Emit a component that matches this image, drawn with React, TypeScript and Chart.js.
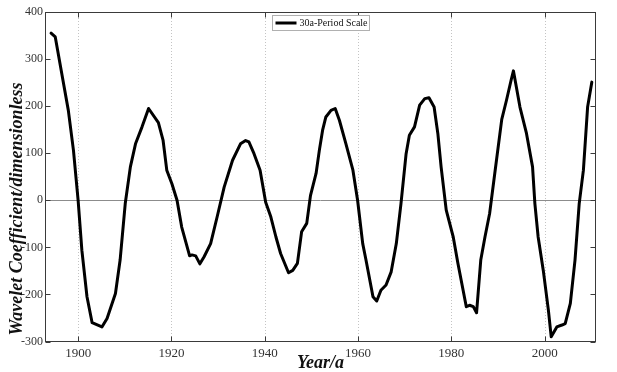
import React, { useEffect, useRef } from 'react';
import { Chart, registerables } from 'chart.js';

Chart.register(...registerables);

const years = [
  1894.2, 1895.1, 1896.5, 1897.9, 1899.0, 1900.0, 1900.8, 1901.9, 1903.0, 1905.1,
  1906.2, 1908.0, 1909.0, 1910.1, 1911.2, 1912.3, 1913.7, 1915.1, 1917.2, 1918.2,
  1919.0, 1920.1, 1921.2, 1922.2, 1923.9, 1924.4, 1925.2, 1926.1, 1927.0, 1928.4,
  1929.8, 1931.3, 1933.1, 1934.8, 1935.9, 1936.6, 1937.7, 1939.0, 1940.2, 1941.3,
  1942.4, 1943.4, 1945.1, 1946.0, 1947.0, 1947.9, 1949.0, 1949.8, 1951.0, 1951.7,
  1952.4, 1953.1, 1954.2, 1955.1, 1956.0, 1957.4, 1958.9, 1959.9, 1961.0, 1961.7,
  1963.2, 1964.0, 1964.9, 1966.0, 1967.1, 1968.2, 1969.2, 1970.3, 1971.0, 1972.1,
  1973.2, 1974.3, 1975.2, 1976.3, 1977.1, 1977.8, 1978.9, 1980.4, 1981.4, 1983.2,
  1983.9, 1984.7, 1985.4, 1986.3, 1987.2, 1988.2, 1989.3, 1990.8, 1991.8, 1992.8,
  1993.3, 1994.7, 1996.1, 1997.4, 1997.9, 1998.6, 1999.7, 2000.8, 2001.4, 2002.6,
  2003.7, 2004.4, 2005.5, 2006.5, 2007.4, 2008.3, 2009.2, 2010.1,
];

const coefficients = [
  355, 347, 269, 191, 106, 0, -106, -205, -260, -269,
  -251, -198, -127, -7, 71, 120, 156, 195, 165, 128,
  64, 35, 0, -57, -118, -116, -118, -135, -120, -92,
  -35, 28, 85, 120, 127, 124, 99, 64, -4, -35,
  -78, -113, -154, -149, -134, -67, -49, 10, 57, 106,
  149, 177, 191, 195, 170, 120, 64, 0, -92, -127,
  -205, -214, -191, -180, -152, -92, -7, 99, 138, 156,
  202, 216, 218, 198, 142, 71, -21, -78, -134, -226,
  -223, -226, -239, -127, -78, -28, 57, 172, 212, 255,
  275, 198, 142, 71, -7, -78, -149, -234, -290, -269,
  -265, -262, -219, -127, -7, 64, 198, 251,
];

const xTickValues = [1900, 1920, 1940, 1960, 1980, 2000];
const yTickValues = [-300, -200, -100, 0, 100, 200, 300, 400];
const seriesLabel = '30a-Period Scale';
const xTitle = 'Year/a';
const yTitle = 'Wavelet Coefficient/dimensionless';

const SERIF = '"Liberation Serif", "Times New Roman", serif';

const framePlugin = {
  id: 'framePlugin',
  beforeDatasetsDraw(chart: any) {
    const { ctx, chartArea: a, scales } = chart;
    const x = scales.x;
    const y = scales.y;
    ctx.save();
    ctx.lineWidth = 1;
    ctx.strokeStyle = '#c4c4c4';
    ctx.setLineDash([1, 2]);
    xTickValues.forEach((v) => {
      const px = Math.round(x.getPixelForValue(v)) + 0.5;
      ctx.beginPath();
      ctx.moveTo(px, a.top);
      ctx.lineTo(px, a.bottom);
      ctx.stroke();
    });
    ctx.setLineDash([]);
    ctx.strokeStyle = '#8c8c8c';
    const y0 = Math.round(y.getPixelForValue(0)) + 0.5;
    ctx.beginPath();
    ctx.moveTo(a.left, y0);
    ctx.lineTo(a.right, y0);
    ctx.stroke();
    ctx.restore();
  },
  afterDatasetsDraw(chart: any) {
    const { ctx, chartArea: a, scales } = chart;
    const x = scales.x;
    const y = scales.y;
    ctx.save();
    ctx.lineWidth = 1;
    ctx.strokeStyle = '#3a3a3a';
    const L = Math.round(a.left) + 0.5;
    const R = Math.round(a.right) - 0.5;
    const T = Math.round(a.top) + 0.5;
    const B = Math.round(a.bottom) - 0.5;
    ctx.strokeRect(L, T, R - L, B - T);
    const tl = 5;
    ctx.beginPath();
    xTickValues.forEach((v) => {
      const px = Math.round(x.getPixelForValue(v)) + 0.5;
      ctx.moveTo(px, T);
      ctx.lineTo(px, T + tl);
      ctx.moveTo(px, B);
      ctx.lineTo(px, B - tl);
    });
    yTickValues.forEach((v) => {
      const py = Math.round(y.getPixelForValue(v)) + 0.5;
      ctx.moveTo(L, py);
      ctx.lineTo(L + tl, py);
      ctx.moveTo(R, py);
      ctx.lineTo(R - tl, py);
    });
    ctx.stroke();

    // legend
    const cx = (a.left + a.right) / 2;
    const bw = 97;
    const bh = 15;
    const bx = Math.round(cx - bw / 2) + 0.5;
    const by = Math.round(a.top + 3) + 0.5;
    ctx.fillStyle = '#ffffff';
    ctx.fillRect(bx, by, bw, bh);
    ctx.strokeStyle = '#b0b0b0';
    ctx.strokeRect(bx, by, bw, bh);
    ctx.strokeStyle = '#000000';
    ctx.lineWidth = 3;
    ctx.beginPath();
    ctx.moveTo(bx + 3, by + bh / 2);
    ctx.lineTo(bx + 24, by + bh / 2);
    ctx.stroke();
    ctx.fillStyle = '#111111';
    ctx.font = `10px ${SERIF}`;
    ctx.textAlign = 'left';
    ctx.textBaseline = 'middle';
    ctx.fillText(seriesLabel, bx + 27, by + bh / 2 + 0.5);

    // axis titles
    ctx.font = `bold italic 18px ${SERIF}`;
    ctx.fillStyle = '#111111';
    ctx.textAlign = 'center';
    ctx.textBaseline = 'middle';
    ctx.fillText(xTitle, cx, 363);
    ctx.save();
    ctx.translate(17, 209);
    ctx.rotate(-Math.PI / 2);
    ctx.fillText(yTitle, 0, 0);
    ctx.restore();
    ctx.restore();
  },
};

export default function App() {
  const canvasRef = useRef<HTMLCanvasElement | null>(null);

  useEffect(() => {
    if (!canvasRef.current) return;
    const chart = new Chart(canvasRef.current, {
      type: 'line',
      data: {
        datasets: [
          {
            label: seriesLabel,
            data: years.map((yr, i) => ({ x: yr, y: coefficients[i] })),
            borderColor: '#000000',
            borderWidth: 3,
            pointRadius: 0,
            tension: 0,
            fill: false,
            borderJoinStyle: 'round',
            borderCapStyle: 'round',
          },
        ],
      },
      options: {
        responsive: false,
        animation: false,
        layout: { padding: { top: 12, right: 21, bottom: 0, left: 0 } },
        plugins: {
          legend: { display: false },
          tooltip: { enabled: false },
        },
        scales: {
          x: {
            type: 'linear',
            min: 1892.9,
            max: 2011,
            afterBuildTicks: (s: any) => {
              s.ticks = xTickValues.map((value) => ({ value }));
            },
            afterFit: (s: any) => {
              s.height = 30.5;
            },
            ticks: {
              font: { family: SERIF, size: 13 },
              color: '#333333',
              padding: 4,
              maxRotation: 0,
              autoSkip: false,
              callback: (v: any) => String(v),
            },
            grid: { display: false, drawTicks: false },
            border: { display: false },
          },
          y: {
            type: 'linear',
            min: -300,
            max: 400,
            afterBuildTicks: (s: any) => {
              s.ticks = yTickValues.map((value) => ({ value }));
            },
            afterFit: (s: any) => {
              s.width = 45;
            },
            ticks: {
              font: { family: SERIF, size: 12 },
              color: '#333333',
              padding: 2,
              autoSkip: false,
              callback: (v: any) => String(v),
            },
            grid: { display: false, drawTicks: false },
            border: { display: false },
          },
        },
      },
      plugins: [framePlugin],
    });
    return () => chart.destroy();
  }, []);

  return (
    <div style={{ position: 'fixed', left: 0, top: 0, width: 617, height: 372, background: '#ffffff' }}>
      <canvas ref={canvasRef} width={617} height={372} style={{ display: 'block' }} />
    </div>
  );
}
